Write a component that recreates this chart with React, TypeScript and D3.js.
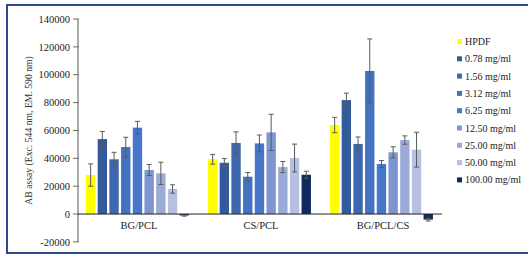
import React from "react";
import * as d3 from "d3";

const groups = ["BG/PCL", "CS/PCL", "BG/PCL/CS"];
const series = ["HPDF", "0.78 mg/ml", "1.56 mg/ml", "3.12 mg/ml", "6.25 mg/ml", "12.50 mg/ml", "25.00 mg/ml", "50.00 mg/ml", "100.00 mg/ml"];
const colors = ["#FFFF00", "#335B9B", "#3D68B0", "#4272C0", "#4777C9", "#7F95D0", "#9BAAD8", "#B5C0E3", "#0E2A5E"];
const valuesBG = [28000, 53800, 39300, 48100, 62000, 31600, 29200, 18000, -1000];
const errorsBG = [8000, 5500, 5000, 7000, 4500, 4000, 8000, 3000, 500];
const valuesCS = [39300, 36800, 51000, 26800, 50700, 58600, 33700, 40200, 28200];
const errorsCS = [3500, 3000, 8000, 3000, 6000, 13000, 4000, 10000, 2500];
const valuesBGCS = [63900, 81800, 50300, 102700, 35900, 44300, 53100, 46200, -4000];
const errorsBGCS = [5500, 5000, 5000, 23000, 2500, 4000, 3000, 12500, 1000];
const yTicks = [-20000, 0, 20000, 40000, 60000, 80000, 100000, 120000, 140000];

const values = [valuesBG, valuesCS, valuesBGCS];
const errors = [errorsBG, errorsCS, errorsBGCS];

export default function App() {
  const font = "'Liberation Serif', 'Times New Roman', serif";
  const y = d3.scaleLinear().domain([-20000, 140000]).range([241.9, 19]);
  const x0 = d3.scaleBand().domain(groups).range([78, 444]);
  const x1 = d3
    .scaleBand()
    .domain(series)
    .range([6.8, 6.8 + 105.3])
    .paddingInner(0.2)
    .paddingOuter(0.1);
  const axisX = 78;
  return (
    <svg width={528} height={255} style={{ position: "absolute", left: 0, top: 0, background: "#fff" }} fontFamily={font}>
      <rect x={7} y={5} width={540} height={248} fill="#fff" stroke="#2E4A8A" strokeWidth={2} />
      {/* y axis */}
      <line x1={axisX} x2={axisX} y1={y(140000)} y2={y(-20000)} stroke="#8C8C8C" strokeWidth={1.5} />
      {yTicks.map((t) => (
        <g key={t}>
          <line x1={axisX - 5} x2={axisX + 1} y1={y(t)} y2={y(t)} stroke="#6E6E6E" strokeWidth={1} />
          <text x={70} y={y(t)} dy="0.35em" textAnchor="end" fontSize={10.5} fill="#222">
            {t}
          </text>
        </g>
      ))}
      <text
        transform={`translate(32,${(y(-20000) + y(140000)) / 2 + 0}) rotate(-90)`}
        textAnchor="middle"
        fontSize={9.7}
        fill="#333"
      >
        AB assay (Exc. 544 nm, EM. 590 nm)
      </text>
      {/* bars */}
      {groups.map((g, gi) => (
        <g key={g} transform={`translate(${x0(g)},0)`}>
          {series.map((s, si) => {
            const v = values[gi][si];
            const e = errors[gi][si];
            const bx = x1(s)!;
            const bw = x1.bandwidth();
            const top = Math.min(y(v), y(0));
            const h = Math.abs(y(v) - y(0));
            const cx = bx + bw / 2;
            return (
              <g key={s}>
                <rect x={bx} y={top} width={bw} height={h} fill={colors[si]} />
                <line x1={cx} x2={cx} y1={y(v + e)} y2={y(v - e)} stroke="#5A5A5A" strokeWidth={1} />
                <line x1={cx - 2.5} x2={cx + 2.5} y1={y(v + e)} y2={y(v + e)} stroke="#5A5A5A" strokeWidth={1} />
                <line x1={cx - 2.5} x2={cx + 2.5} y1={y(v - e)} y2={y(v - e)} stroke="#5A5A5A" strokeWidth={1} />
              </g>
            );
          })}
          <text x={x0.bandwidth() / 2} y={229} textAnchor="middle" fontSize={10.5} fill="#222">
            {g}
          </text>
        </g>
      ))}
      {/* zero line */}
      <line x1={axisX} x2={442} y1={y(0)} y2={y(0)} stroke="#222" strokeWidth={1} />
      {/* legend */}
      {series.map((s, i) => (
        <g key={s} transform={`translate(457,${45 + i * 17.3})`}>
          <rect x={0} y={-6} width={5} height={5} fill={colors[i]} />
          <text x={8} y={0} fontSize={10} fill="#222">
            {s}
          </text>
        </g>
      ))}
    </svg>
  );
}
